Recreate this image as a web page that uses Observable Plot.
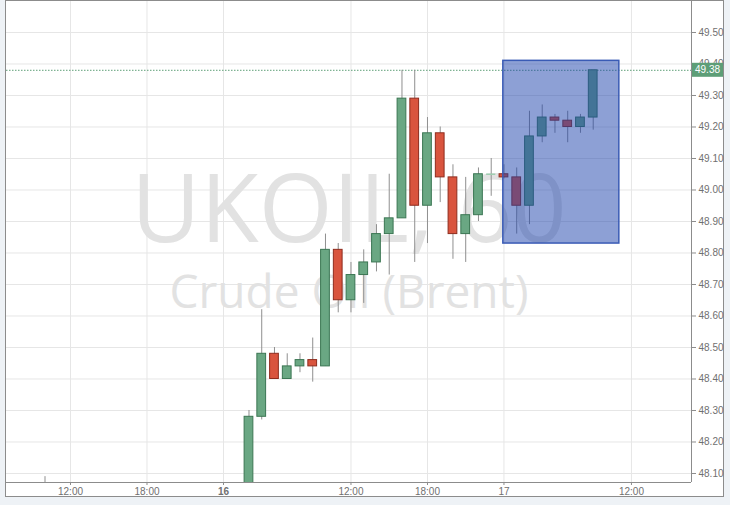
<!DOCTYPE html>
<html>
<head>
<meta charset="utf-8">
<script src="https://cdn.jsdelivr.net/npm/d3@7"></script>
<script src="https://cdn.jsdelivr.net/npm/@observablehq/plot@0.6"></script>
<style>
  html, body { margin: 0; padding: 0; background: #eef2f6; }
  #wrap { position: relative; width: 730px; height: 505px; }
  #box { position: absolute; left: 5px; top: 0px; width: 719px; height: 497px; background: #fff; border: 1px solid #8c8c8c; box-sizing: border-box; }
  #chart { position: absolute; left: 0; top: 0; }
</style>
</head>
<body>
<div id="wrap"><div id="box"></div><div id="chart"></div></div>
<script>
// Hourly bars (index counted from the "16" day mark)
const bar   = [-14, 2, 3, 4, 5, 6, 7, 8, 9, 10, 11, 12, 13, 14, 15, 16, 17, 18, 19, 20, 21, 22, 23, 24, 25, 26, 27, 28, 29];
const open  = [48.00, 48.02, 48.28, 48.48, 48.40, 48.44, 48.46, 48.44, 48.81, 48.65, 48.73, 48.77, 48.86, 48.91, 49.29, 48.95, 49.18, 49.04, 48.86, 48.92, 49.05, 49.05, 49.04, 48.95, 49.17, 49.23, 49.22, 49.20, 49.23];
const high  = [48.09, 48.30, 48.62, 48.50, 48.48, 48.48, 48.53, 48.86, 48.83, 48.77, 48.81, 48.89, 49.05, 49.38, 49.38, 49.23, 49.20, 49.08, 49.04, 49.07, 49.10, 49.08, 49.07, 49.25, 49.27, 49.24, 49.25, 49.24, 49.38];
const low   = [47.95, 47.99, 48.27, 48.40, 48.40, 48.42, 48.39, 48.44, 48.61, 48.61, 48.64, 48.74, 48.73, 48.91, 48.77, 48.83, 48.96, 48.78, 48.77, 48.90, 48.98, 49.035, 48.86, 48.89, 49.15, 49.18, 49.15, 49.18, 49.19];
const close = [47.98, 48.28, 48.48, 48.40, 48.44, 48.46, 48.44, 48.81, 48.65, 48.73, 48.77, 48.86, 48.91, 49.29, 48.95, 49.18, 49.04, 48.86, 48.92, 49.05, 49.05, 49.04, 48.95, 49.17, 49.23, 49.22, 49.20, 49.23, 49.38];

const xTickPos    = [-12, -6, 0, 10, 16, 22, 32];
const xTickLabels = ["12:00", "18:00", "16", "12:00", "18:00", "17", "12:00"];
const yTicks = [48.10, 48.20, 48.30, 48.40, 48.50, 48.60, 48.70, 48.80, 48.90, 49.00, 49.10, 49.20, 49.30, 49.40, 49.50];
const xDomain = [-17.02, 36.71];
const yDomain = [48.0714, 49.5984];

const lastPrice = 49.38;
const selectionX = [21.95, 31.05];
const selectionY = [48.83, 49.41];

const symbolTitle = "UKOIL, 60";
const symbolName = "Crude Oil (Brent)";

const rows = bar.map((b, k) => ({i: b, open: open[k], high: high[k], low: low[k], close: close[k]}));
const bodies = rows.filter(d => d.open !== d.close);
const dojis = rows.filter(d => d.open === d.close);
const sel = [{x1: selectionX[0], x2: selectionX[1], y1: selectionY[0], y2: selectionY[1]}];

const UP_FILL = "#6aa783", UP_STROKE = "#3b7653";
const DN_FILL = "#d9543e", DN_STROKE = "#8e2c1e";

const plot = Plot.plot({
  width: 730,
  height: 505,
  marginLeft: 6,
  marginRight: 39,
  marginTop: 1,
  marginBottom: 23,
  style: {background: "transparent", fontFamily: "'Liberation Sans', Arial, sans-serif", fontSize: "10px", color: "#707070"},
  x: {domain: xDomain},
  y: {domain: yDomain},
  marks: [
    Plot.gridX(xTickPos, {stroke: "#e6e6e6", strokeOpacity: 1}),
    Plot.gridY(yTicks, {stroke: "#e6e6e6", strokeOpacity: 1}),
    Plot.text([symbolTitle], {frameAnchor: "middle", dy: -30, fontSize: 95, fill: "#e2e2e2", fontFamily: "'Open Sans', sans-serif"}),
    Plot.text([symbolName], {frameAnchor: "middle", dy: 51, fontSize: 46, fill: "#e2e2e2", fontFamily: "'Open Sans', sans-serif"}),
    Plot.ruleY([lastPrice], {stroke: "#5d9e77", strokeDasharray: "1.5,1.5", strokeWidth: 1}),
    Plot.ruleX(rows, {x: "i", y1: "low", y2: "high", stroke: "#8f8f8f", strokeWidth: 1, clip: true}),
    Plot.rect(bodies, {
      x1: d => d.i - 0.5, x2: d => d.i + 0.5, insetLeft: 2, insetRight: 2,
      y1: "open", y2: "close",
      fill: d => d.close > d.open ? UP_FILL : DN_FILL,
      stroke: d => d.close > d.open ? UP_STROKE : DN_STROKE,
      strokeWidth: 1, clip: true
    }),
    Plot.ruleY(dojis, {y: "close", x1: d => d.i - 0.36, x2: d => d.i + 0.36, stroke: "#9fcfb1", strokeWidth: 1.5}),
    Plot.rect(sel, {x1: "x1", x2: "x2", y1: "y1", y2: "y2", fill: "#1c42ab", fillOpacity: 0.5, stroke: "#3a5bb5", strokeWidth: 1.5}),
    Plot.ruleY([yDomain[0]], {stroke: "#8c8c8c"}),
    Plot.ruleX([xDomain[1]], {stroke: "#8c8c8c"}),
    Plot.axisY({anchor: "right", ticks: yTicks, tickFormat: ".2f", tickSize: 4, tickPadding: 3, stroke: "#8c8c8c", label: null}),
    Plot.axisX({ticks: xTickPos, tickFormat: (d, k) => xTickLabels[xTickPos.indexOf(d)], tickSize: 3, tickPadding: 2, stroke: "#8c8c8c", label: null})
  ]
});

document.getElementById("chart").appendChild(plot);

// bold day mark
d3.select(plot).selectAll("text").filter(function() { return this.textContent === "16"; }).attr("font-weight", "bold");

// last-price label on the right axis
const ys = plot.scale("y"), xs = plot.scale("x");
const py = ys.apply(lastPrice);
const px = xs.range[1];
const g = d3.select(plot).append("g");
g.append("rect").attr("x", px + 1).attr("y", py - 7).attr("width", 31).attr("height", 14).attr("fill", "#5d9e77");
g.append("text").attr("x", px + 16.5).attr("y", py).attr("dy", "0.35em").attr("text-anchor", "middle")
  .attr("fill", "#fff").attr("font-size", 10).attr("font-family", "'Liberation Sans', Arial, sans-serif").text(lastPrice.toFixed(2));
</script>
</body>
</html>
